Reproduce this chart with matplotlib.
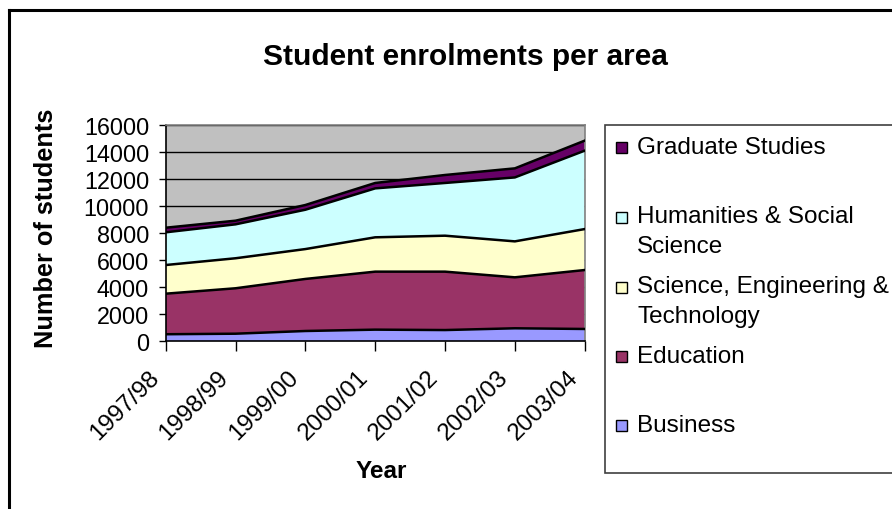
import matplotlib
matplotlib.use("Agg")
import matplotlib.pyplot as plt
from matplotlib.patches import Rectangle
from matplotlib.lines import Line2D
from matplotlib.transforms import offset_copy
import numpy as np

years = ["1997/98", "1998/99", "1999/00", "2000/01", "2001/02", "2002/03", "2003/04"]
business = [500, 540, 740, 840, 810, 940, 890]
education = [3000, 3360, 3850, 4290, 4320, 3770, 4360]
science_eng_tech = [2120, 2220, 2210, 2540, 2660, 2660, 3030]
humanities = [2420, 2510, 2910, 3620, 3900, 4730, 5800]
graduate = [340, 270, 350, 400, 590, 670, 740]

series = [
    ("Business", business, "#9999FF"),
    ("Education", education, "#993366"),
    ("Science, Engineering & Technology", science_eng_tech, "#FFFFCC"),
    ("Humanities & Social Science", humanities, "#CCFFFF"),
    ("Graduate Studies", graduate, "#660066"),
]

W, H = 892, 510
FONT = "Liberation Sans"
plt.rcParams["font.family"] = [FONT, "DejaVu Sans"]

fig = plt.figure(figsize=(W / 100, H / 100), dpi=100)
fig.patch.set_facecolor("white")

def fx(px):
    return px / W

def fy(py):
    return 1 - py / H

left, right, top, bottom = 165.7, 584.7, 125.7, 342.0
ax = fig.add_axes([fx(left), fy(bottom), fx(right - left), (bottom - top) / H])
ax.set_facecolor("#C0C0C0")

x = np.arange(len(years))
base = np.zeros(len(years))
for name, vals, color in series:
    upper = base + np.array(vals)
    ax.fill_between(x, base, upper, facecolor=color, edgecolor="none", zorder=2)
    ax.plot(x, upper, color="black", lw=1.8, zorder=3, solid_joinstyle="round")
    base = upper

ax.set_xlim(0, len(years) - 1)
ax.set_ylim(0, 16000)
ax.set_yticks(np.arange(0, 16001, 2000))
ax.yaxis.grid(True, color="black", lw=1.0, zorder=1)
ax.set_axisbelow(True)
ax.set_xticks(x)
ax.set_xticklabels([])
ax.tick_params(axis="y", direction="out", length=5, width=1, labelsize=16.8, pad=7)
ax.tick_params(axis="x", direction="out", length=7, width=1)
for lab in ax.get_yticklabels():
    lab.set_fontfamily(FONT)

for side in ("top", "right"):
    ax.spines[side].set_color("#808080")
    ax.spines[side].set_linewidth(1.2)
ax.spines["left"].set_color("black")
ax.spines["bottom"].set_color("black")
ax.spines["left"].set_linewidth(1.2)
ax.spines["bottom"].set_linewidth(1.2)

# rotated category labels, upper-right end sitting just under each tick
lab_tr = offset_copy(ax.get_xaxis_transform(), fig=fig, x=-18, y=-25, units="dots")
for i, yr in enumerate(years):
    ax.text(i, 0, yr, transform=lab_tr, rotation=45, rotation_mode="anchor",
            ha="right", va="top", fontsize=17.5, family=FONT)

fig.text(fx(465), fy(57), "Student enrolments per area", ha="center", va="center",
         fontsize=21.5, fontweight="bold", family=FONT)
fig.text(fx(46), fy(228), "Number of students", ha="center", va="center",
         rotation=90, fontsize=18.3, fontweight="bold", family=FONT)
fig.text(fx(381), fy(472), "Year", ha="center", va="center",
         fontsize=17.5, fontweight="bold", family=FONT)

# outer chart frame
fig.add_artist(Line2D([fx(9), fx(W + 5)], [fy(11), fy(11)], color="black", lw=2.2))
fig.add_artist(Line2D([fx(9), fx(9)], [fy(11), fy(H + 5)], color="black", lw=2.2))

# legend box
fig.add_artist(Rectangle((fx(605), fy(473.7)), fx(W + 20 - 605), (473.7 - 125.7) / H,
                         transform=fig.transFigure, facecolor="white",
                         edgecolor="#404040", lw=1.2))

legend_rows = [
    ("#660066", 148, [("Graduate Studies", 154.3)]),
    ("#CCFFFF", 218, [("Humanities & Social", 222.7), ("Science", 253.3)]),
    ("#FFFFCC", 288, [("Science, Engineering &", 293.3), ("Technology", 322.7)]),
    ("#993366", 357, [("Education", 362.7)]),
    ("#9999FF", 426, [("Business", 431.7)]),
]
sq = 11
for color, cy, lines in legend_rows:
    fig.add_artist(Rectangle((fx(616), fy(cy + sq / 2)), fx(sq), sq / H,
                             transform=fig.transFigure, facecolor=color,
                             edgecolor="black", lw=1.0))
    for txt, base_y in lines:
        fig.text(fx(637), fy(base_y), txt, ha="left", va="baseline",
                 fontsize=17.5, family=FONT)

fig.savefig("out.png", dpi=100)
